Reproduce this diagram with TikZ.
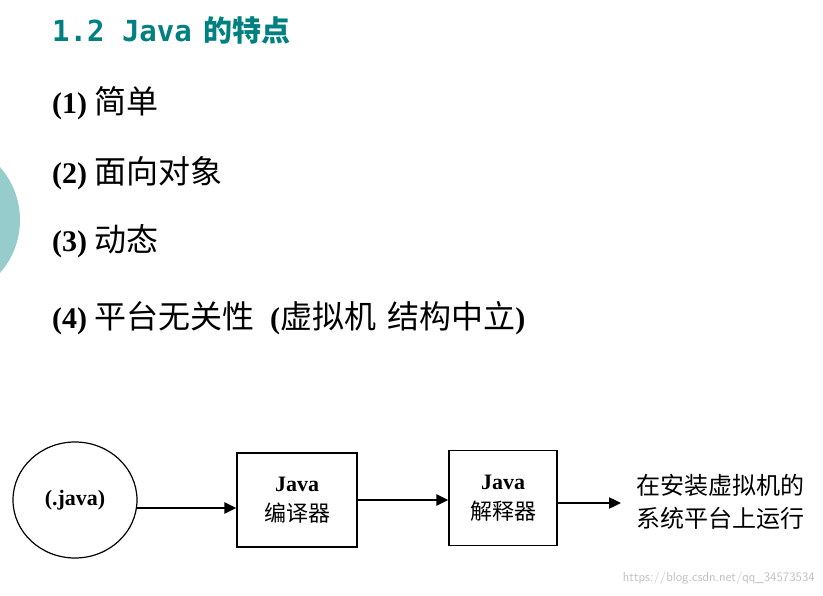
\documentclass[tikz,border=0pt]{standalone}
\usepackage{fontspec}
\setmainfont{Liberation Serif}
\newfontfamily\cjk{Noto Sans CJK SC}
\newfontfamily\monob{DejaVu Sans Mono}
\usetikzlibrary{arrows.meta}
\definecolor{teal1}{RGB}{0,128,128}
\definecolor{circ}{RGB}{150,204,204}
\newcommand{\ck}[1]{{\cjk\mdseries\fontsize{32}{34}\selectfont #1}}
\begin{document}
\begin{tikzpicture}[x=1pt,y=-1pt,
  item/.style={anchor=west,font=\fontsize{30}{34}\selectfont\bfseries,inner sep=0},
  box/.style={draw,line width=1.2pt,minimum width=120pt,minimum height=94pt,align=center,font=\fontsize{22}{30}\selectfont\bfseries},
  arr/.style={line width=2.4pt,-{Triangle[length=12pt,width=11pt]}}]
\useasboundingbox (0,0) rectangle (823,596);
\fill[circ] (-60,220) circle (80);
\node[anchor=west,inner sep=0,text=teal1,font=\fontsize{29}{32}\selectfont] (t) at (52,30) {{\monob\bfseries 1.2 Java} \hspace{4pt}{\cjk\bfseries 的特点}};
\node[item] (i1) at (52,103) {(1) \ck{简单}};
\node[item] (i2) at (52,173) {(2) \ck{面向对象}};
\node[item] (i3) at (52,241) {(3) \ck{动态}};
\node[item] (i4) at (52,318) {(4) \ck{平台无关性}\hspace{8pt} (\ck{虚拟机\hspace{4pt} 结构中立})};
\draw[line width=1.2pt] (75,500) ellipse (62 and 58);
\node[font=\fontsize{22}{26}\selectfont\bfseries] (e) at (75,500) {(.java)};
\coordinate (eR) at (137,508);
\node[box] (b1) at (297,500) {Java\\{\cjk\mdseries 编译器}};
\node[box,minimum width=108pt,minimum height=95pt] (b2) at (503,498) {Java\\{\cjk\mdseries 解释器}};
\draw[arr] (eR) -- (b1.west|-eR);
\draw[arr] (b1.east) -- (b2.west|-b1.east);
\coordinate (end) at (621,503);
\draw[arr] (b2.east|-end) -- (end);
\node[anchor=west,align=left,font=\fontsize{24}{33}\selectfont\cjk,inner sep=0] (txt) at (636,502) {在安装虚拟机的\\系统平台上运行};
\node[anchor=east,text=black!25,font=\fontsize{13}{15}\selectfont\sffamily,inner sep=0] (w) at (815,578) {https://blog.csdn.net/qq\_34573534};
\end{tikzpicture}
\end{document}
